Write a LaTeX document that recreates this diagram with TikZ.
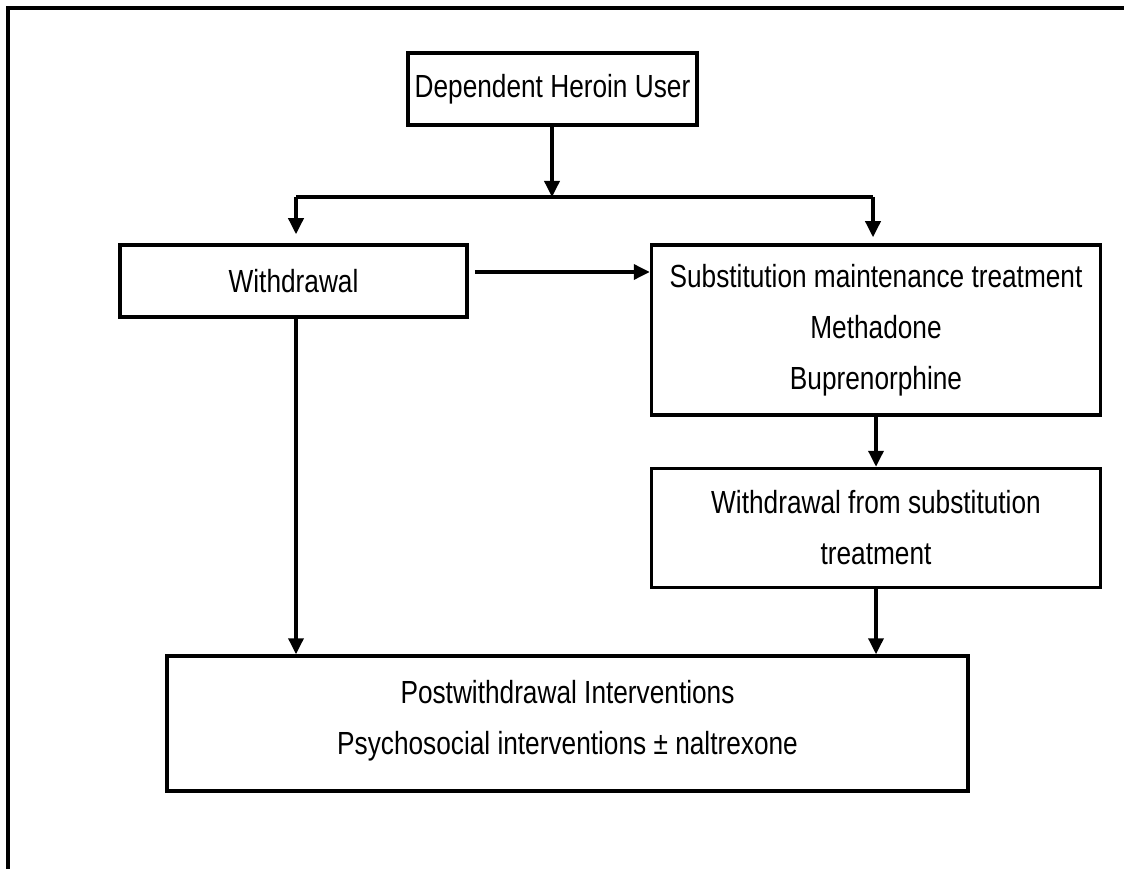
\documentclass[tikz,border=0pt]{standalone}
\usepackage{fontspec}
\setmainfont{Liberation Sans}[FakeStretch=0.82]
\usepackage{tikz}
\usetikzlibrary{arrows.meta,positioning}
\tikzstyle{bx}=[draw, line width=3.5pt, inner sep=0pt, align=center, font=\fontsize{32}{51}\selectfont]
\tikzstyle{ar}=[-{Triangle[length=16pt,width=15pt]}, line width=3.5pt]

\begin{document}
\begin{tikzpicture}
 [x=1pt, y=-1pt]
 \useasboundingbox (0,0) rectangle (1124,869);
 \draw[line width=4pt] (1124,8) -- (8,8) -- (8,869);
 \node[bx, minimum width=289pt, minimum height=72pt] (user) at (552.5,89) {Dependent Heroin User};
 \node[bx, minimum width=347pt, minimum height=72pt] (wd) at (293.5,281) {Withdrawal};
 \node[bx, minimum width=449pt, minimum height=170pt, anchor=north west]
   (subst) at ([xshift=181pt]wd.north east)
   {Substitution maintenance treatment\\Methadone\\Buprenorphine};
 \node[bx, minimum width=449pt, minimum height=119pt, below=50pt of subst]
   (wfs) {Withdrawal from substitution\\treatment};
 \node[bx, minimum width=801pt, minimum height=135pt, text depth=12pt] (post) at (567.5,723.5)
   {Postwithdrawal Interventions\\Psychosocial interventions ± naltrexone};
 \coordinate (split) at (552,197);
 \coordinate (lt) at (296,197);
 \coordinate (rt) at (873,197);
 \draw[line width=3.5pt] (lt) -- (rt);
 \draw[ar] (user.south -| split) -- (split);
 \draw[ar, shorten >=9pt] (lt) -- (lt |- wd.north);
 \draw[ar, shorten >=6pt] (rt) -- (rt |- subst.north);
 \draw[ar, shorten <=6pt] ([yshift=9pt]wd.east) -- ([yshift=9pt]wd.east -| subst.west);
 \draw[ar] (subst.south) -- (wfs.north);
 \draw[ar] (wfs.south) -- (wfs.south |- post.north);
 \draw[ar] (wd.south -| lt) -- (lt |- post.north);
\end{tikzpicture}
\end{document}
